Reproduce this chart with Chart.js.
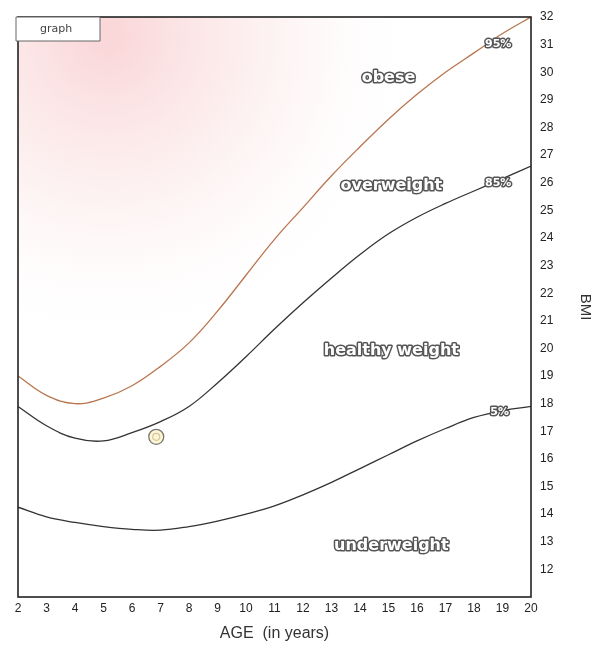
<!DOCTYPE html>
<html>
<head>
<meta charset="utf-8">
<script src="https://cdn.jsdelivr.net/npm/chart.js@4/dist/chart.umd.min.js"></script>
<style>
	html, body { margin: 0; padding: 0; background: #fff; }
	#wrap { width: 602px; height: 646px; }
</style>
</head>
<body>
<div id="wrap"><canvas id="bmiChart" width="602" height="646"></canvas></div>
<script>
const ages = [2, 3, 4, 5, 6, 7, 8, 9, 10, 11, 12, 13, 14, 15, 16, 17, 18, 19, 20];
const p95 = [19.0, 18.3, 18.0, 18.2, 18.65, 19.35, 20.2, 21.35, 22.65, 23.95, 25.1, 26.25, 27.3, 28.3, 29.2, 30.0, 30.7, 31.4, 32.0];
const p85 = [17.9, 17.2, 16.75, 16.65, 16.95, 17.35, 17.9, 18.75, 19.7, 20.7, 21.65, 22.55, 23.4, 24.15, 24.75, 25.25, 25.7, 26.15, 26.6];
const p5 = [14.25, 13.9, 13.7, 13.55, 13.45, 13.42, 13.55, 13.75, 14.0, 14.3, 14.7, 15.15, 15.65, 16.15, 16.65, 17.1, 17.5, 17.75, 17.9];

// the child's single reading
const childAge = [6.85];
const childBmi = [16.8];

// zone names and curve tags, anchored in data units
const zoneLabels = ['obese', 'overweight', 'healthy weight', 'underweight'];
const zoneAge = [15.0, 15.1, 15.1, 15.1];
const zoneBmi = [29.8, 25.9, 19.9, 12.85];
const pctLabels = ['95%', '85%', '5%'];
const pctAge = [18.85, 18.85, 18.9];
const pctBmi = [31.0, 26.0, 17.7];

const xTicks = ages;
const yTicks = [12, 13, 14, 15, 16, 17, 18, 19, 20, 21, 22, 23, 24, 25, 26, 27, 28, 29, 30, 31, 32];

const toXY = (xs, ys) => xs.map((x, i) => ({ x, y: ys[i] }));

function outlined(ctx, text, x, y, font) {
	ctx.font = font;
	ctx.textAlign = 'center';
	ctx.textBaseline = 'middle';
	ctx.lineJoin = 'round';
	ctx.lineWidth = 3;
	ctx.strokeStyle = '#555';
	ctx.strokeText(text, x, y);
	ctx.fillStyle = '#fff';
	ctx.fillText(text, x, y);
}

const paperPlugin = {
	id: 'paper',
	beforeDraw(chart) {
		const { ctx, chartArea: a } = chart;
		ctx.save();
		ctx.fillStyle = '#fff';
		ctx.fillRect(0, 0, chart.width, chart.height);
		// faint pink wash in the top-left corner of the scan
		const g = ctx.createRadialGradient(a.left + 90, a.top + 20, 10, a.left + 90, a.top + 20, 320);
		g.addColorStop(0, 'rgba(242,150,155,0.38)');
		g.addColorStop(0.5, 'rgba(245,185,185,0.18)');
		g.addColorStop(1, 'rgba(255,255,255,0)');
		ctx.fillStyle = g;
		ctx.fillRect(a.left, a.top, a.right - a.left, a.bottom - a.top);
		ctx.restore();
	},
	afterDatasetsDraw(chart) {
		const { ctx, chartArea: a, scales: { x, y } } = chart;
		ctx.save();
		ctx.strokeStyle = '#222';
		ctx.lineWidth = 1.6;
		ctx.strokeRect(a.left, a.top, a.right - a.left, a.bottom - a.top);

		zoneLabels.forEach((t, i) => {
			outlined(ctx, t, x.getPixelForValue(zoneAge[i]), y.getPixelForValue(zoneBmi[i]), 'bold 16px "DejaVu Sans"');
		});
		pctLabels.forEach((t, i) => {
			outlined(ctx, t, x.getPixelForValue(pctAge[i]), y.getPixelForValue(pctBmi[i]), 'bold 11px "DejaVu Sans"');
		});

		// little "graph" tab
		ctx.fillStyle = '#fff';
		ctx.fillRect(a.left - 2, a.top, 84, 24);
		ctx.strokeStyle = '#666';
		ctx.lineWidth = 1;
		ctx.strokeRect(a.left - 2, a.top, 84, 24);
		ctx.fillStyle = '#444';
		ctx.font = '11px "DejaVu Sans"';
		ctx.textAlign = 'center';
		ctx.textBaseline = 'middle';
		ctx.fillText('graph', a.left + 38, a.top + 12);
		ctx.restore();
	},
};

const curve = (data, color) => ({
	data,
	borderColor: color,
	borderWidth: 1.3,
	pointRadius: 0,
	fill: false,
	tension: 0.4,
});

new Chart(document.getElementById('bmiChart'), {
	type: 'line',
	data: {
		datasets: [
			curve(toXY(ages, p95), '#b9754f'),
			curve(toXY(ages, p85), '#333'),
			curve(toXY(ages, p5), '#333'),
			{
				data: toXY(childAge, childBmi),
				showLine: false,
				pointRadius: 7.5,
				pointBorderWidth: 1.3,
				pointBorderColor: '#777',
				pointBackgroundColor: 'rgba(255,242,190,0.7)',
			},
			{
				data: toXY(childAge, childBmi),
				showLine: false,
				pointRadius: 3.5,
				pointBorderWidth: 1.2,
				pointBorderColor: '#666',
				pointBackgroundColor: '#fff',
			},
		],
	},
	options: {
		responsive: false,
		animation: false,
		layout: { padding: { left: 18, top: 17, right: 0, bottom: 0 } },
		plugins: { legend: { display: false }, tooltip: { enabled: false } },
		scales: {
			x: {
				type: 'linear',
				min: 2,
				max: 20,
				afterBuildTicks: (s) => { s.ticks = xTicks.map((v) => ({ value: v })); },
				afterFit: (s) => { s.height = 49; },
				grid: { display: false, drawTicks: false },
				border: { display: false },
				ticks: { color: '#222', padding: 4, font: { family: 'Liberation Sans', size: 12 } },
				title: {
					display: true,
					text: 'AGE  (in years)',
					color: '#333',
					padding: { top: 0, bottom: 3 },
					font: { family: 'Liberation Sans', size: 16 },
				},
			},
			y: {
				type: 'linear',
				position: 'right',
				min: 11,
				max: 32,
				afterBuildTicks: (s) => { s.ticks = yTicks.map((v) => ({ value: v })); },
				afterFit: (s) => { s.width = 71; },
				grid: { display: false, drawTicks: false },
				border: { display: false },
				ticks: { color: '#222', padding: 9, font: { family: 'Liberation Sans', size: 12 } },
				title: {
					display: true,
					text: 'BMI',
					color: '#333',
					padding: 8,
					font: { family: 'Liberation Sans', size: 15 },
				},
			},
		},
	},
	plugins: [paperPlugin],
});
</script>
</body>
</html>
